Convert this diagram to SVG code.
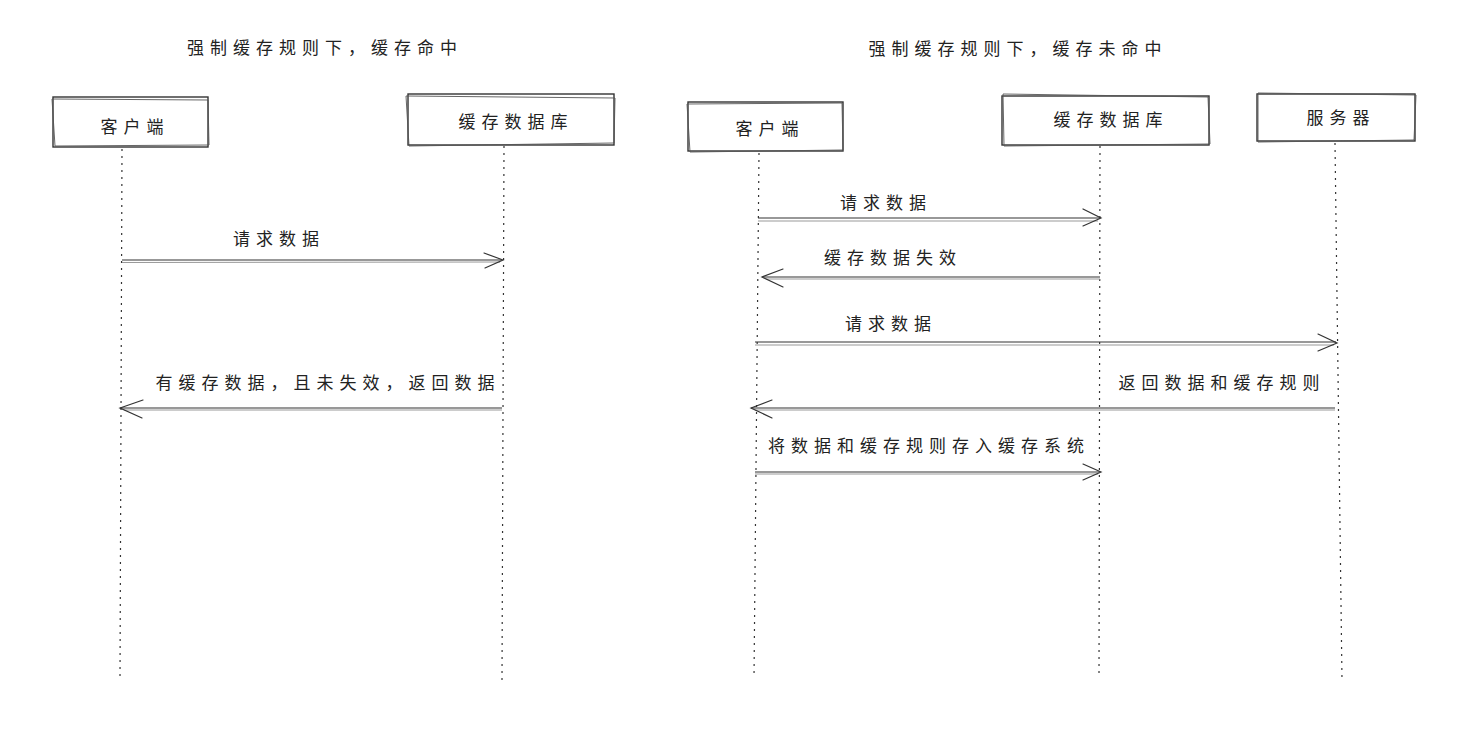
<svg xmlns="http://www.w3.org/2000/svg" width="1475" height="736" viewBox="0 0 1475 736">
<style>
text{font-family:"Noto Sans CJK SC","Noto Sans",sans-serif;font-size:17px;fill:#222;letter-spacing:6px}
.t{text-anchor:middle}
.box{fill:#fff;stroke:#333;stroke-width:1.4}
.box2{fill:none;stroke:#555;stroke-width:0.9}
.life{stroke:#333;stroke-width:1.2;stroke-dasharray:2 5;fill:none}
.ln{stroke:#333;stroke-width:1.2;fill:none}
.ln2{stroke:#999;stroke-width:1;fill:none}
.ah{stroke:#333;stroke-width:1.2;fill:none;stroke-linecap:round}
</style>
<rect width="1475" height="736" fill="#fff"/>
<text x="325" y="54" class="t">强制缓存规则下，缓存命中</text>
<text x="1018" y="55" class="t">强制缓存规则下，缓存未命中</text>

<g id="lifelines">
<line class="life" x1="122" y1="149" x2="120" y2="678"/>
<line class="life" x1="504" y1="146" x2="502" y2="680"/>
<line class="life" x1="759" y1="153" x2="754" y2="678"/>
<line class="life" x1="1100" y1="146" x2="1099" y2="678"/>
<line class="life" x1="1335" y1="143" x2="1342" y2="680"/>
</g>

<g id="node-client-left">
<rect class="box" x="53" y="97" width="155" height="50"/>
<path class="box2" d="M52 99 L208 100 L209 145 L55 146 Z"/>
<text x="135" y="133" class="t">客户端</text>
</g>
<g id="node-cache-left">
<rect class="box" x="408" y="94" width="206" height="51"/>
<path class="box2" d="M406 96 L615 98 L614 143 L409 146 Z"/>
<text x="516" y="128" class="t">缓存数据库</text>
</g>
<g id="node-client-right">
<rect class="box" x="688" y="102" width="155" height="49"/>
<path class="box2" d="M687 104 L842 103 L843 150 L690 152 Z"/>
<text x="770" y="135" class="t">客户端</text>
</g>
<g id="node-cache-right">
<rect class="box" x="1002" y="96" width="207" height="49"/>
<path class="box2" d="M1003 94 L1208 97 L1210 144 L1004 146 Z"/>
<text x="1111" y="126" class="t">缓存数据库</text>
</g>
<g id="node-server">
<rect class="box" x="1257" y="94" width="158" height="47"/>
<path class="box2" d="M1258 93 L1416 95 L1414 140 L1258 142 Z"/>
<text x="1341" y="124" class="t">服务器</text>
</g>

<g id="connectors">
<line class="ln" x1="122" y1="260" x2="502" y2="260"/>
<line class="ln2" x1="122" y1="262.5" x2="500" y2="262"/>
<path class="ah" d="M484 253 L503 260 L485 268"/>
<text x="279" y="245" class="t">请求数据</text>

<line class="ln" x1="502" y1="408" x2="120" y2="408"/>
<line class="ln2" x1="502" y1="410" x2="124" y2="410"/>
<path class="ah" d="M143 400 L120 408 L142 418"/>
<text x="328" y="389" class="t">有缓存数据，且未失效，返回数据</text>

<line class="ln" x1="758" y1="218" x2="1100" y2="218"/>
<line class="ln2" x1="758" y1="221" x2="1098" y2="221"/>
<path class="ah" d="M1083 209 L1101 218 L1083 226"/>
<text x="886" y="209" class="t">请求数据</text>

<line class="ln" x1="1100" y1="277" x2="762" y2="277"/>
<line class="ln2" x1="1100" y1="279" x2="766" y2="279"/>
<path class="ah" d="M783 269 L762 277 L783 287"/>
<text x="893" y="264" class="t">缓存数据失效</text>

<line class="ln" x1="755" y1="342" x2="1336" y2="342"/>
<line class="ln2" x1="755" y1="345" x2="1334" y2="345"/>
<path class="ah" d="M1318 334 L1337 343 L1318 351"/>
<text x="891" y="330" class="t">请求数据</text>

<line class="ln" x1="1335" y1="408" x2="751" y2="408"/>
<line class="ln2" x1="1335" y1="410" x2="755" y2="410"/>
<path class="ah" d="M772 400 L751 408 L772 418"/>
<text x="1222" y="389" class="t">返回数据和缓存规则</text>

<line class="ln" x1="755" y1="472" x2="1100" y2="472"/>
<line class="ln2" x1="755" y1="474" x2="1098" y2="474"/>
<path class="ah" d="M1083 464 L1101 472 L1083 480"/>
<text x="929" y="452" class="t">将数据和缓存规则存入缓存系统</text>
</g>
</svg>
